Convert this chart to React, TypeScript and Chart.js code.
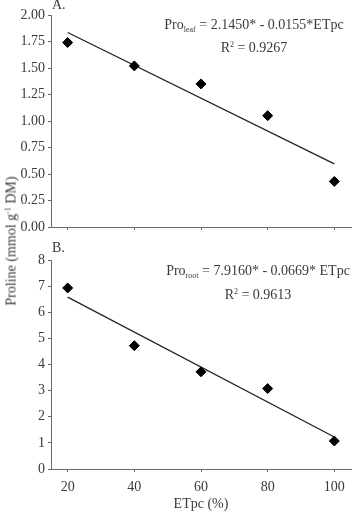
import React, { useEffect, useRef } from "react";
import { Chart, registerables } from "chart.js";

Chart.register(...registerables);

const etpc = [20, 40, 60, 80, 100];
const leafValues = [1.74, 1.52, 1.35, 1.05, 0.43];
const rootValues = [6.93, 4.72, 3.72, 3.08, 1.07];
const fitX = [20, 100];
const leafFit = [1.835, 0.595];
const rootFit = [6.578, 1.226];
const xTicks = [20, 40, 60, 80, 100];
const leafTicks = [0, 0.25, 0.5, 0.75, 1, 1.25, 1.5, 1.75, 2];
const rootTicks = [0, 1, 2, 3, 4, 5, 6, 7, 8];

const FONT = "'Liberation Serif', 'Times New Roman', serif";
const TEXT = "#3a3a3a";
const AXIS = "#6a6a6a";

function makeConfig(
  values: number[],
  fit: number[],
  yTicks: number[],
  yMax: number,
  decimals: number,
  showX: boolean,
  padTop: number,
  xHeight: number
): any {
  return {
    type: "scatter",
    data: {
      datasets: [
        {
          data: fitX.map((x, i) => ({ x, y: fit[i] })),
          showLine: true,
          borderColor: "#222",
          borderWidth: 1.3,
          pointRadius: 0,
          order: 2,
        },
        {
          data: etpc.map((x, i) => ({ x, y: values[i] })),
          pointStyle: "rectRot",
          pointRadius: 5,
          backgroundColor: "#000",
          borderColor: "#000",
          borderWidth: 1,
          order: 1,
        },
      ],
    },
    options: {
      animation: false,
      responsive: false,
      maintainAspectRatio: false,
      layout: { padding: { left: 0, right: 3, top: padTop, bottom: 0 } },
      plugins: { legend: { display: false }, tooltip: { enabled: false } },
      scales: {
        x: {
          type: "linear",
          min: 15,
          max: 105,
          afterBuildTicks: (s: any) => {
            s.ticks = xTicks.map((v) => ({ value: v }));
          },
          afterFit: (s: any) => {
            s.height = xHeight;
          },
          grid: {
            display: true,
            drawOnChartArea: false,
            drawTicks: true,
            tickLength: 3,
            color: AXIS,
          },
          border: { display: true, color: AXIS, width: 1 },
          ticks: {
            display: showX,
            padding: 7,
            color: TEXT,
            font: { family: FONT, size: 14 },
            maxRotation: 0,
          },
          title: {
            display: showX,
            text: "ETpc (%)",
            color: TEXT,
            font: { family: FONT, size: 14 },
            padding: { top: 0, bottom: 0 },
          },
        },
        y: {
          type: "linear",
          min: 0,
          max: yMax,
          afterBuildTicks: (s: any) => {
            s.ticks = yTicks.map((v) => ({ value: v }));
          },
          afterFit: (s: any) => {
            s.width = 51;
          },
          grid: {
            display: true,
            drawOnChartArea: false,
            drawTicks: true,
            tickLength: 3,
            color: AXIS,
          },
          border: { display: true, color: AXIS, width: 1 },
          ticks: {
            padding: 3,
            color: TEXT,
            font: { family: FONT, size: 14, lineHeight: 1 },
            callback: (v: any) => Number(v).toFixed(decimals),
          },
        },
      },
    },
  };
}

function Panel(props: { config: any; top: number; height: number }) {
  const ref = useRef<HTMLCanvasElement>(null);
  useEffect(() => {
    const chart = new Chart(ref.current as HTMLCanvasElement, props.config);
    return () => chart.destroy();
  }, []);
  return (
    <canvas
      ref={ref}
      width={357}
      height={props.height}
      style={{ position: "absolute", left: 0, top: props.top, width: 357, height: props.height }}
    />
  );
}

const txt: React.CSSProperties = {
  position: "absolute",
  fontFamily: FONT,
  fontWeight: 400,
  color: TEXT,
  whiteSpace: "nowrap",
  lineHeight: "16px",
};

export default function App() {
  const cfgA = makeConfig(leafValues, leafFit, leafTicks, 2, 2, false, 15, 23);
  const cfgB = makeConfig(rootValues, rootFit, rootTicks, 8, 0, true, 7, 44);
  return (
    <div
      style={{
        position: "absolute",
        left: 0,
        top: 0,
        width: 357,
        height: 513,
        background: "#fff",
        overflow: "hidden",
      }}
    >
      <Panel config={cfgA} top={0} height={250} />
      <Panel config={cfgB} top={250} height={263} />
      <div style={{ ...txt, left: 52, top: -3, fontSize: 14 }}>A.</div>
      <div style={{ ...txt, left: 52, top: 240, fontSize: 14 }}>B.</div>
      <div style={{ ...txt, left: 154, width: 200, top: 17, fontSize: 14, textAlign: "center" }}>
        Pro<sub style={{ fontSize: 8, verticalAlign: "-3px" }}>leaf</sub> = 2.1450* - 0.0155*ETpc
      </div>
      <div style={{ ...txt, left: 154, width: 200, top: 37, fontSize: 14, textAlign: "center" }}>
        R<sup style={{ fontSize: 8, verticalAlign: "5px" }}>2</sup> = 0.9267
      </div>
      <div style={{ ...txt, left: 158, width: 200, top: 263, fontSize: 14, textAlign: "center" }}>
        Pro<sub style={{ fontSize: 8, verticalAlign: "-3px" }}>root</sub> = 7.9160* - 0.0669* ETpc
      </div>
      <div style={{ ...txt, left: 158, width: 200, top: 284, fontSize: 14, textAlign: "center" }}>
        R<sup style={{ fontSize: 8, verticalAlign: "5px" }}>2</sup> = 0.9613
      </div>
      <div
        style={{
          ...txt,
          fontSize: 14,
          left: 10,
          top: 241,
          transform: "translate(-50%, -50%) rotate(-90deg)",
        }}
      >
        Proline (mmol g<sup style={{ fontSize: 8, verticalAlign: "5px" }}>-1</sup> DM)
      </div>
    </div>
  );
}
